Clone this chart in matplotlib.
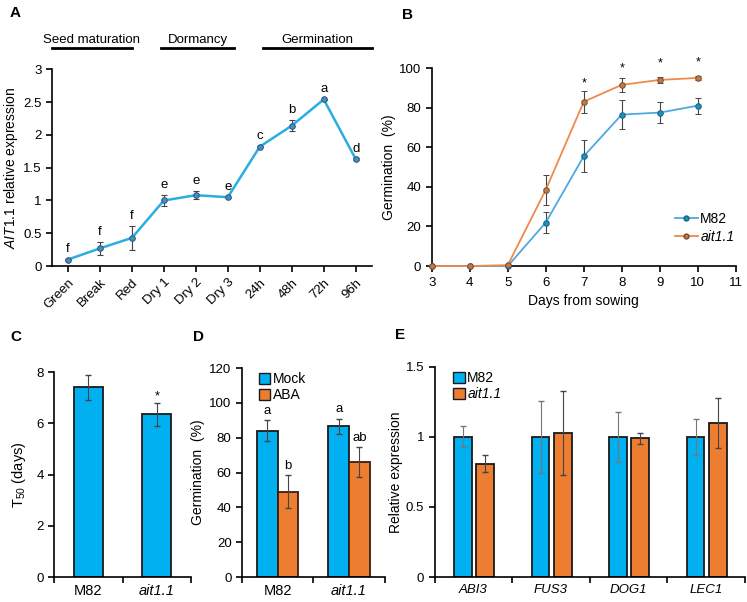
import matplotlib
matplotlib.use('Agg')
import matplotlib.pyplot as plt
import matplotlib.patches as mpatches
from matplotlib.lines import Line2D
import numpy as np

plt.rcParams['font.family'] = ['Liberation Sans', 'DejaVu Sans']
plt.rcParams['mathtext.fontset'] = 'custom'
plt.rcParams['mathtext.rm'] = 'Liberation Sans'
plt.rcParams['mathtext.it'] = 'Liberation Sans:italic'
plt.rcParams['font.size'] = 9

# Panel A data
stages = ['Green', 'Break', 'Red', 'Dry 1', 'Dry 2', 'Dry 3', '24h', '48h', '72h', '96h']
ait_expr = [0.10, 0.27, 0.43, 1.00, 1.08, 1.05, 1.82, 2.14, 2.54, 1.63]
ait_err = [0.01, 0.10, 0.18, 0.08, 0.06, 0.01, 0.01, 0.08, 0.01, 0.01]
ait_letters = ['f', 'f', 'f', 'e', 'e', 'e', 'c', 'b', 'a', 'd']
phase_names = ['Seed maturation', 'Dormancy', 'Germination']
phase_start = [-0.5, 2.9, 6.1]
phase_end = [2.0, 5.2, 9.5]

# Panel B data
days = [3, 4, 5, 6, 7, 8, 9, 10]
germ_m82 = [0, 0, 0, 22, 55.5, 76.5, 77.5, 81]
germ_m82_err = [0, 0, 0, 5.5, 8, 7.5, 5.5, 4]
germ_ait = [0, 0, 0.5, 38.5, 83, 91.5, 94, 95]
germ_ait_err = [0, 0, 0, 7.5, 5.5, 3.5, 1.5, 1.2]
star_days = [7, 8, 9, 10]
star_y = [92, 100, 102.5, 103]

# Panel C data
genotypes = ['M82', 'ait1.1']
t50 = [7.4, 6.35]
t50_err = [0.5, 0.45]

# Panel D data
germ_mock = [84, 86.5]
germ_mock_err = [6, 4.5]
germ_aba = [49, 66]
germ_aba_err = [9.5, 8.5]
mock_letters = ['a', 'a']
aba_letters = ['b', 'ab']

# Panel E data
genes = ['ABI3', 'FUS3', 'DOG1', 'LEC1']
expr_m82 = [1.0, 1.0, 1.0, 1.0]
expr_m82_err = [0.075, 0.26, 0.18, 0.13]
expr_ait = [0.81, 1.03, 0.99, 1.10]
expr_ait_err = [0.06, 0.30, 0.04, 0.18]

BLUE = '#00B0F0'
ORANGE = '#ED7D31'
EDGE = '#1a1a1a'
ERR = '#444444'


def style_axes(ax):
    for s in ['top', 'right']:
        ax.spines[s].set_visible(False)
    for s in ['left', 'bottom']:
        ax.spines[s].set_linewidth(1.2)
    ax.tick_params(direction='out', length=4, width=1.2, labelsize=9.5)


def category_ticks(ax, n, labels, italic):
    ax.set_xlim(-0.5, n - 0.5)
    ax.set_xticks(np.arange(-0.5, n, 1.0))
    ax.set_xticklabels([])
    ax.set_xticks(np.arange(n), minor=True)
    ax.set_xticklabels(labels, minor=True, fontsize=10.5)
    ax.tick_params(axis='x', which='minor', length=0, pad=5)
    for lab, it in zip(ax.get_xticklabels(minor=True), italic):
        if it:
            lab.set_style('italic')


fig = plt.figure(figsize=(7.47, 6.02), dpi=100)

# ---------------- A ----------------
axA = fig.add_axes([0.0696, 0.558, 0.428, 0.327])
style_axes(axA)
x = np.arange(len(stages))
axA.errorbar(x, ait_expr, yerr=ait_err, color='#29AEE3', lw=1.8, marker='o', ms=4,
             mfc='#4A8DBF', mec='#2F5F86', mew=0.8, ecolor=ERR, elinewidth=0.8,
             capsize=2, clip_on=False, zorder=3)
for xi, yi, ei, lt in zip(x, ait_expr, ait_err, ait_letters):
    axA.text(xi, yi + ei + 0.06, lt, ha='center', va='bottom', fontsize=9.5)
axA.set_xlim(-0.5, 9.5)
axA.set_ylim(0, 3)
axA.set_yticks([0, 0.5, 1, 1.5, 2, 2.5, 3])
axA.set_yticklabels(['0', '0.5', '1', '1.5', '2', '2.5', '3'])
axA.set_xticks(x)
axA.set_xticklabels(stages, rotation=45, ha='right', rotation_mode='anchor')
axA.set_ylabel(r'$\mathit{AIT1.1}$ relative expression', fontsize=10, labelpad=2)
for name, s, e in zip(phase_names, phase_start, phase_end):
    axA.plot([s, e], [3.33, 3.33], color='black', lw=2, clip_on=False)
    axA.text((s + e) / 2, 3.35, name, ha='center', va='bottom', fontsize=9.5)

# ---------------- B ----------------
axB = fig.add_axes([0.578, 0.558, 0.407, 0.329])
style_axes(axB)
axB.errorbar(days, germ_m82, yerr=germ_m82_err, color='#4FA8E0', lw=1.3, marker='o', ms=4,
             mfc='#1C8FC2', mec='#20607F', mew=0.7, ecolor=ERR, elinewidth=0.8,
             capsize=2.5, clip_on=False, zorder=3)
axB.errorbar(days, germ_ait, yerr=germ_ait_err, color='#EE8A4A', lw=1.3, marker='o', ms=4,
             mfc='#C07A4A', mec='#7A4A2A', mew=0.7, ecolor=ERR, elinewidth=0.8,
             capsize=2.5, clip_on=False, zorder=3)
for d, sy in zip(star_days, star_y):
    axB.text(d, sy, '*', ha='center', va='center', fontsize=9)
axB.set_xlim(3, 11)
axB.set_ylim(0, 100)
axB.set_xticks(range(3, 12))
axB.set_yticks(range(0, 101, 20))
axB.set_xlabel('Days from sowing', fontsize=10)
axB.set_ylabel('Germination  (%)', fontsize=10, labelpad=2)
legB = axB.legend(handles=[Line2D([], [], color='#4FA8E0', lw=1.3, marker='o', ms=3.5,
                                  mfc='#1C8FC2', mec='#20607F', label='M82'),
                           Line2D([], [], color='#EE8A4A', lw=1.3, marker='o', ms=3.5,
                                  mfc='#C07A4A', mec='#7A4A2A', label='ait1.1')],
                  loc='lower left', bbox_to_anchor=(0.76, 0.05), frameon=False,
                  handlelength=1.6, handletextpad=0.2, labelspacing=0.3, fontsize=10)
legB.get_texts()[1].set_style('italic')

# ---------------- C ----------------
axC = fig.add_axes([0.0723, 0.0415, 0.1834, 0.3405])
style_axes(axC)
axC.bar(np.arange(2), t50, width=0.42, color=BLUE, edgecolor=EDGE, lw=1.3,
        yerr=t50_err, ecolor=ERR, error_kw=dict(elinewidth=0.8, capsize=2.5))
axC.text(1, t50[1] + t50_err[1] + 0.25, '*', ha='center', va='center', fontsize=9)
axC.set_ylim(0, 8)
axC.set_yticks(range(0, 9, 2))
category_ticks(axC, 2, genotypes, [False, True])
axC.set_ylabel(r'T$_{50}$ (days)', fontsize=10.5, labelpad=6)

# ---------------- D ----------------
axD = fig.add_axes([0.324, 0.0415, 0.191, 0.347])
style_axes(axD)
w = 0.29
xd = np.arange(2)
axD.bar(xd - w / 2, germ_mock, width=w, color=BLUE, edgecolor=EDGE, lw=1.3,
        yerr=germ_mock_err, ecolor=ERR, error_kw=dict(elinewidth=0.8, capsize=2.5))
axD.bar(xd + w / 2, germ_aba, width=w, color=ORANGE, edgecolor='#3a1f10', lw=1.3,
        yerr=germ_aba_err, ecolor=ERR, error_kw=dict(elinewidth=0.8, capsize=2.5))
for xi, yi, ei, lt in zip(xd - w / 2, germ_mock, germ_mock_err, mock_letters):
    axD.text(xi, yi + ei + 2, lt, ha='center', va='bottom', fontsize=9.5)
for xi, yi, ei, lt in zip(xd + w / 2, germ_aba, germ_aba_err, aba_letters):
    axD.text(xi, yi + ei + 2, lt, ha='center', va='bottom', fontsize=9.5)
axD.set_ylim(0, 120)
axD.set_yticks(range(0, 121, 20))
category_ticks(axD, 2, genotypes, [False, True])
axD.set_ylabel('Germination  (%)', fontsize=10, labelpad=3)
axD.legend(handles=[mpatches.Patch(facecolor=BLUE, edgecolor=EDGE, label='Mock'),
                    mpatches.Patch(facecolor=ORANGE, edgecolor=EDGE, label='ABA')],
           loc='upper left', bbox_to_anchor=(0.03, 1.04), frameon=False,
           handlelength=0.8, handleheight=0.8, handletextpad=0.2, labelspacing=0.15,
           fontsize=10)

# ---------------- E ----------------
axE = fig.add_axes([0.582, 0.0415, 0.415, 0.349])
style_axes(axE)
we = 0.23
xe = np.arange(len(genes))
axE.bar(xe - 0.135, expr_m82, width=we, color=BLUE, edgecolor=EDGE, lw=1.3,
        yerr=expr_m82_err, ecolor='#777777', error_kw=dict(elinewidth=0.8, capsize=2.5))
axE.bar(xe + 0.15, expr_ait, width=we, color=ORANGE, edgecolor=EDGE, lw=1.3,
        yerr=expr_ait_err, ecolor=ERR, error_kw=dict(elinewidth=0.8, capsize=2.5))
axE.set_ylim(0, 1.5)
axE.set_yticks([0, 0.5, 1, 1.5])
axE.set_yticklabels(['0', '0.5', '1', '1.5'])
category_ticks(axE, len(genes), genes, [True] * len(genes))
for lab in axE.get_xticklabels(minor=True):
    lab.set_fontsize(9.5)
axE.set_ylabel('Relative expression', fontsize=10, labelpad=2)
legE = axE.legend(handles=[mpatches.Patch(facecolor=BLUE, edgecolor=EDGE, label='M82'),
                           mpatches.Patch(facecolor=ORANGE, edgecolor=EDGE, label='ait1.1')],
                  loc='upper left', bbox_to_anchor=(0.02, 1.04), frameon=False,
                  handlelength=0.8, handleheight=0.8, handletextpad=0.2, labelspacing=0.15,
                  fontsize=10)
legE.get_texts()[1].set_style('italic')

# panel letters
for lt, px, py in [('A', 0.0134, 0.978), ('B', 0.538, 0.975), ('C', 0.0134, 0.44),
                   ('D', 0.258, 0.44), ('E', 0.529, 0.443)]:
    fig.text(px, py, lt, fontsize=11, fontweight='bold', ha='left', va='center')

fig.savefig('out.png', dpi=100)
